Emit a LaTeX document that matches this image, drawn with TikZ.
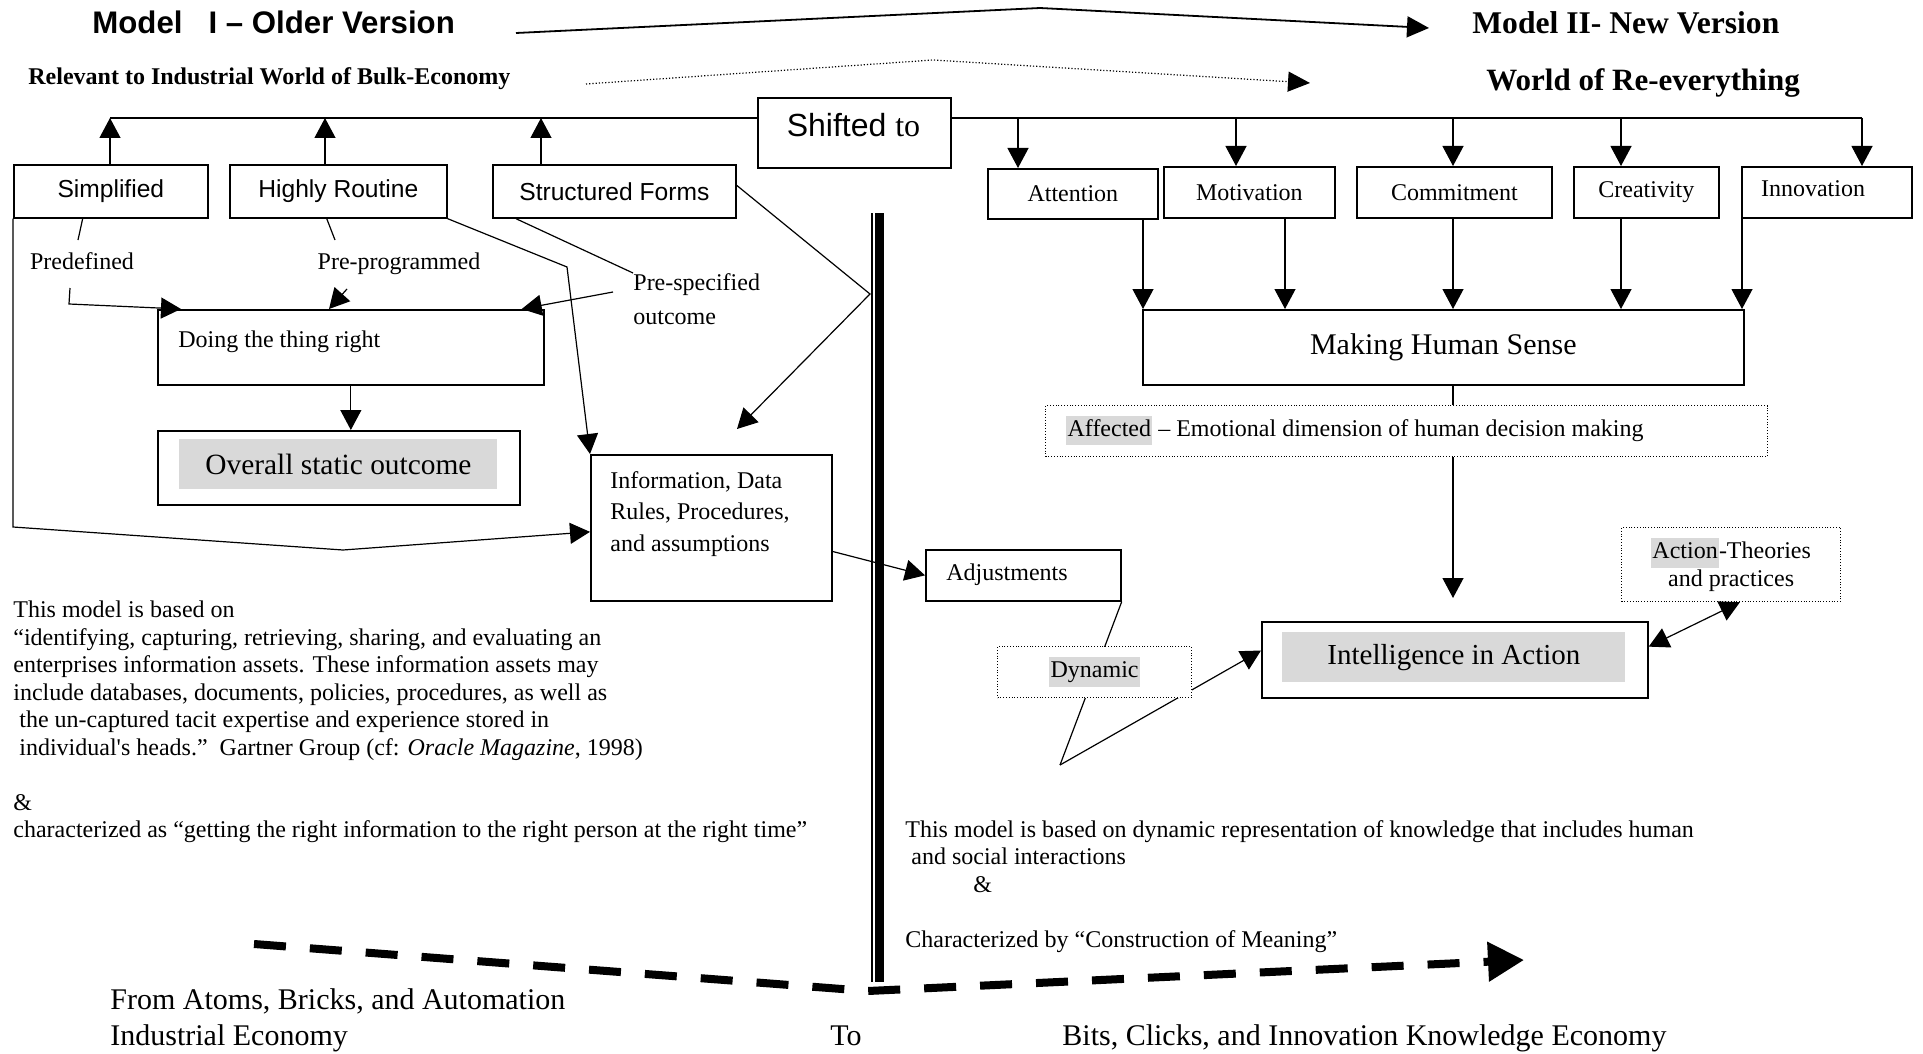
\documentclass[tikz,border=0pt]{standalone}
\usepackage{fontspec}
\setmainfont{Liberation Serif}
\setsansfont{Liberation Sans}
\usetikzlibrary{arrows.meta,calc}
\definecolor{hl}{HTML}{D9D9D9}
\newcommand{\hlword}[1]{{\setlength{\fboxsep}{0.6pt}\colorbox{hl}{\strut #1}}}

\begin{document}
\begin{tikzpicture}[x=0.5pt,y=-0.5pt,
  box/.style={draw, line width=0.85pt, fill=white, inner sep=0pt, anchor=north west},
  dbox/.style={draw, line width=0.6pt, dash pattern=on 0.5pt off 0.9pt, fill=white, inner sep=0pt, anchor=north west},
  greyfill/.style={fill=hl, inner sep=0pt, anchor=north west},
  conn/.style={line width=0.6pt},
  tip/.style={Triangle[length=10pt,width=10.5pt]},
  arr/.style={conn, -{Triangle[length=10pt,width=10.5pt]}},
  rm12/.style={font=\fontsize{12}{13.75}\selectfont},
  sf12/.style={font=\sffamily\fontsize{12.3}{14}\selectfont},
  txt/.style={inner sep=0pt}
]
\fill[white] (0,0) rectangle (1923,1054);
\useasboundingbox (0,0) rectangle (1923,1054);

% ---------- headings ----------
\node[txt, anchor=base west, font=\sffamily\bfseries\fontsize{15.6}{18}\selectfont] (t1) at (92,34) {Model\hspace{0.834em}I – Older Version};
\node[txt, anchor=base west, font=\bfseries\fontsize{15.8}{18}\selectfont] (t2) at (1472,33.5) {Model II- New Version};
\node[txt, anchor=base west, font=\bfseries\fontsize{12}{14}\selectfont] (r1) at (28,85) {Relevant to Industrial World of Bulk-Economy};
\node[txt, anchor=base west, font=\bfseries\fontsize{15.5}{18}\selectfont] (r2) at (1486,91) {World of Re-everything};

\coordinate (s1) at (516,33); \coordinate (s2) at (1040,8); \coordinate (s3) at (1429,28);
\draw[line width=0.9pt, -{Triangle[length=11pt,width=10.5pt]}] (s1) -- (s2) -- (s3);
\coordinate (d1) at (586,84); \coordinate (d2) at (933,60); \coordinate (d3) at (1310,83);
\draw[line width=0.6pt, dash pattern=on 0.6pt off 1pt, -{Triangle[length=11pt,width=10pt]}] (d1) -- (d2) -- (d3);

% ---------- bus with "Shifted to" ----------
\coordinate (busL) at (110,118); \coordinate (busR) at (1862,118);
\draw[conn] (busL) -- (busR);
\node[box, minimum width=96.5pt, minimum height=35pt] (shift) at (757,97) {};
\node[txt] (shifttxt) at (853.5,125) {\sffamily\fontsize{16}{18}\selectfont Shifted {\rmfamily to}};

% ---------- upper boxes ----------
\node[box, sf12, minimum width=97pt, minimum height=26.5pt] (simp) at (13,164) {Simplified};
\node[box, sf12, minimum width=108.5pt, minimum height=26.5pt] (rout) at (229,164) {Highly Routine};
\node[box, sf12, minimum width=121.5pt, minimum height=26.5pt] (form) at (492,164) {Structured Forms};

\node[box, rm12, minimum width=85pt, minimum height=25pt] (att) at (987,168) {Attention};
\node[box, rm12, minimum width=85.5pt, minimum height=25.5pt] (mot) at (1163,166) {Motivation};
\node[box, rm12, minimum width=97.5pt, minimum height=25.5pt] (com) at (1356,166) {Commitment};
\node[box, rm12, minimum width=72.5pt, minimum height=25.5pt] (cre) at (1573,166) {Creativity};
\node[box, minimum width=85pt, minimum height=25.5pt] (inn) at (1741,166) {};
\node[txt, rm12] (inntxt) at (1813,189) {Innovation};

\coordinate (tapA) at (110,118); \coordinate (tapB) at (325,118); \coordinate (tapC) at (541,118);
\coordinate (tapD) at (1018,118); \coordinate (tapE) at (1236,118); \coordinate (tapF) at (1453,118);
\coordinate (tapG) at (1621,118); \coordinate (tapH) at (1862,118);
\draw[arr] (tapA |- simp.north) -- (tapA);
\draw[arr] (tapB |- rout.north) -- (tapB);
\draw[arr] (tapC |- form.north) -- (tapC);
\draw[arr] (tapD) -- (tapD |- att.north);
\draw[arr] (tapE) -- (tapE |- mot.north);
\draw[arr] (tapF) -- (tapF |- com.north);
\draw[arr] (tapG) -- (tapG |- cre.north);
\draw[arr] (tapH) -- (tapH |- inn.north);

% ---------- right side ----------
\node[box, font=\fontsize{15}{18}\selectfont, minimum width=300.5pt, minimum height=37.5pt] (mhs) at (1142,309) {Making Human Sense};
\coordinate (fA) at (1143,309); \coordinate (fB) at (1285,309); \coordinate (fC) at (1453,309);
\coordinate (fD) at (1621,309); \coordinate (fE) at (1742,309);
\draw[arr] (fA |- att.south) -- (fA);
\draw[arr] (fB |- mot.south) -- (fB);
\draw[arr] (fC |- com.south) -- (fC);
\draw[arr] (fD |- cre.south) -- (fD);
\draw[arr] (fE |- inn.south) -- (fE);

\node[dbox, minimum width=361pt, minimum height=25.5pt] (aff) at (1045,405) {};
\node[txt, rm12, anchor=base west] (afftxt) at (1066,436) {\hlword{Affected} – Emotional dimension of human decision making};
\draw[conn] (mhs.south -| tapF) -- (aff.north -| tapF);

\node[box, minimum width=193pt, minimum height=38pt] (intel) at (1261,621) {};
\node[greyfill, font=\fontsize{14.5}{17}\selectfont, minimum width=171.5pt, minimum height=25pt] (inteltxt) at (1282,632) {Intelligence in Action};
\draw[arr, shorten >=11.5pt] (aff.south -| tapF) -- (intel.north -| tapF);

\node[dbox, rm12, align=center, minimum width=109.5pt, minimum height=37pt] (act) at (1621,527) {\hlword{Action}-Theories\\and practices};
\draw[conn, {Triangle[length=10pt,width=10.5pt]}-{Triangle[length=10pt,width=10.5pt]}] ($(intel.north east)!0.33!(intel.south east)$) -- ($(act.south west)!0.54!(act.south east)$);

\node[box, minimum width=97.5pt, minimum height=25.5pt] (adj) at (925,549) {};
\node[txt, rm12, anchor=base west] (adjtxt) at (946,580) {Adjustments};

\coordinate (vpt) at (1060,765);
\draw[conn] (adj.south east) -- (vpt);
\draw[arr] (vpt) -- ($(intel.north west)!0.38!(intel.south west)$);
\node[dbox, rm12, minimum width=97pt, minimum height=25.5pt] (dyn) at (997,646) {\hlword{Dynamic}};

% ---------- left side ----------
\node[box, minimum width=193pt, minimum height=37.5pt] (doing) at (157,309) {};
\node[txt, rm12, anchor=base west] (doingtxt) at (178,347) {Doing the thing right};
\node[box, minimum width=181pt, minimum height=37pt] (overall) at (157,430) {};
\node[greyfill, font=\fontsize{14.7}{17}\selectfont, minimum width=159pt, minimum height=25pt] (overtxt) at (179,439) {Overall static outcome};
\draw[arr] (doing.south) -- (doing.south |- overall.north);

\node[box, minimum width=120.5pt, minimum height=73pt] (info) at (590,454) {};
\node[txt, rm12, anchor=base west] (inf1) at (610,488) {Information, Data};
\node[txt, rm12, anchor=base west] (inf2) at (610,519) {Rules, Procedures,};
\node[txt, rm12, anchor=base west] (inf3) at (610,551) {and assumptions};

\node[txt, rm12, anchor=base] (predef) at (82,269) {Predefined};
\node[txt, rm12, anchor=base] (preprog) at (399,269) {Pre-programmed};
\node[txt, rm12, anchor=base west] (prespec) at (633,290) {Pre-specified};
\node[txt, rm12, anchor=base west] (outc) at (633,324) {outcome};

% connectors of the older model
\coordinate (a1) at (78,240);
\draw[conn] ($(simp.south west)!0.356!(simp.south east)$) -- (a1);
\coordinate (b1) at (70,288); \coordinate (b2) at (69,304);
\draw[arr] (b1) -- (b2) -- ($(doing.north west)+(24,0)$);
\coordinate (c1) at (335,240);
\draw[conn] ($(rout.south west)!0.447!(rout.south east)$) -- (c1);
\coordinate (d0) at (347,289);
\draw[arr] (d0) -- ($(doing.north west)+(172,0)$);
\coordinate (e0) at (613,292);
\draw[arr] (e0) -- ($(doing.north east)+(-23,0)$);
\coordinate (f1) at (633,273);
\draw[conn] ($(form.south west)+(24,0)$) -- (f1);
\coordinate (g1) at (567,267);
\draw[arr] (rout.south east) -- (g1) -- (info.north west);
\coordinate (h1) at (870,294); \coordinate (h2) at (737,429);
\draw[arr] ($(form.east)+(0,-6)$) -- (h1) -- (h2);
\coordinate (i1) at (13,527); \coordinate (i2) at (343,550);
\draw[arr] (simp.south west) -- (i1) -- (i2) -- ($(info.west)+(0,4)$);
\draw[arr] ($(info.north east)!0.66!(info.south east)$) -- (adj.west);

% ---------- dividing bar ----------
\fill (870.5,213) rectangle (872.5,982);
\fill (875,213) rectangle (883.5,982);

% ---------- big dashed transition arrow ----------
\coordinate (m1) at (254,944); \coordinate (m2) at (868,991); \coordinate (m3) at (1524,960);
\draw[line width=4pt, dash pattern=on 16pt off 12pt, -{Triangle[length=18pt,width=19pt]}] (m1) -- (m2) -- (m3);

% ---------- texts ----------
\node[txt, anchor=north west, align=left, rm12] (bodyL) at (13,600.8) {This model is based on\\
“identifying, capturing, retrieving, sharing, and evaluating an\\
enterprises information assets. These information assets may\\
include databases, documents, policies, procedures, as well as\\
\ the un-captured tacit expertise and experience stored in\\
\ individual\textquotesingle s heads."\ \ Gartner Group (cf: \textit{Oracle Magazine}, 1998)\\
\mbox{}\\
\&\\
characterized as “getting the right information to the right person at the right time”};

\node[txt, anchor=north west, align=left, rm12] (bodyR) at (905,819.8) {This model is based on dynamic representation of knowledge that includes human\\
\ and social interactions\\
\hspace{34pt}\&\\
\mbox{}\\
Characterized by “Construction of Meaning”};

\node[txt, anchor=base west, font=\fontsize{15}{18}\selectfont] (from1) at (110,1009) {From Atoms, Bricks, and Automation};
\node[txt, anchor=base west, font=\fontsize{15}{18}\selectfont] (from2) at (110,1045) {Industrial Economy};
\node[txt, anchor=base, font=\fontsize{15}{18}\selectfont] (tow) at (846,1045) {To};
\node[txt, anchor=base west, font=\fontsize{15}{18}\selectfont] (bits) at (1062,1045) {Bits, Clicks, and Innovation Knowledge Economy};
\end{tikzpicture}
\end{document}
